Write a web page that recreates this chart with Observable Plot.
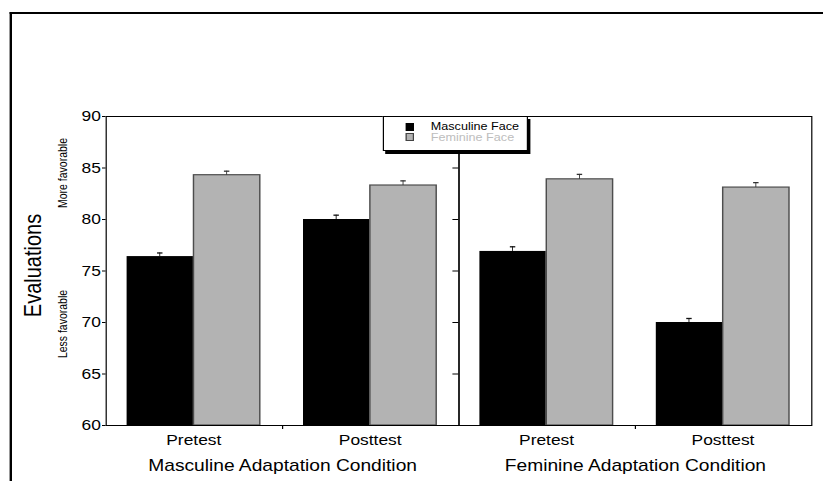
<!DOCTYPE html>
<html>
<head>
<meta charset="utf-8">
<script src="https://cdn.jsdelivr.net/npm/d3@7"></script>
<script src="https://cdn.jsdelivr.net/npm/@observablehq/plot@0.6"></script>
<style>
  html, body { margin: 0; padding: 0; background: #fff; overflow: hidden; }
  #page { position: relative; width: 823px; height: 481px; overflow: hidden; }
  /* the whole figure is drawn slightly widened */
  #stretch { position: absolute; left: 0; top: 0; width: 686px; height: 481px;
             transform: scaleX(1.2); transform-origin: 0 0; }
  #border { position: absolute; left: 7.5px; top: 12px; width: 800px; height: 500px;
            border-top: 2px solid #000; border-left: 2px solid #000; }
  #chart { position: absolute; left: 0; top: 0; }
  #legend { position: absolute; left: 319px; top: 116px; width: 119px; height: 33px;
            background: #fff; border: 1px solid #000; box-shadow: 2px 3px 0 #000;
            font: 10.5px "Liberation Sans", Arial, sans-serif; }
  #legend .sw { position: absolute; left: 18px; width: 6.5px; height: 8px; box-sizing: border-box; }
  #legend .lb { position: absolute; left: 39px; white-space: nowrap; line-height: 12px; }
</style>
</head>
<body>
<div id="page">
  <div id="stretch">
    <div id="border"></div>
    <div id="chart"></div>
    <div id="legend"></div>
  </div>
</div>
<script>
// Adaptation conditions (panels), test phases and face types
const conditions = ["Masculine Adaptation Condition", "Feminine Adaptation Condition"];
const tests = ["Pretest", "Posttest"];
const faces = ["Masculine Face", "Feminine Face"];

// Mean evaluations, ordered: masculine pre, masculine post, feminine pre, feminine post
const masculineFace = [76.4, 80.0, 76.9, 70.0];
const feminineFace = [84.3, 83.3, 83.9, 83.1];
// Standard errors in the same order
const masculineErr = [0.35, 0.42, 0.45, 0.39];
const feminineErr = [0.39, 0.45, 0.48, 0.48];

const yTicks = [60, 65, 70, 75, 80, 85, 90];
const yTitle = "Evaluations";
const yNotes = ["More favorable", "Less favorable"];

const faceColors = ["#000000", "#b3b3b3"];

// one row per bar
const rows = [];
conditions.forEach((condition, ci) => {
  tests.forEach((test, ti) => {
    const k = ci * tests.length + ti;
    rows.push({condition, test, face: faces[0], value: masculineFace[k], err: masculineErr[k]});
    rows.push({condition, test, face: faces[1], value: feminineFace[k], err: feminineErr[k]});
  });
});
const masc = rows.filter(d => d.face === faces[0]);
const fem = rows.filter(d => d.face === faces[1]);

// layout
const W = 686, H = 481;
const mL = 87.5, mR = 10.5, mT = 116, mB = 56;
const padInner = 0.244, padOuter = 0.119;
const facetW = (W - mL - mR) / conditions.length;
const step = facetW / (tests.length - padInner + 2 * padOuter);
const bw = step * (1 - padInner);
const q = bw / 4;        // centre of each half-band
const cap = 2.5;         // half width of error caps

const font = '"Liberation Sans", Arial, sans-serif';

const chart = Plot.plot({
  width: W,
  height: H,
  marginLeft: mL,
  marginRight: mR,
  marginTop: mT,
  marginBottom: mB,
  facet: {marginTop: 0, marginRight: 0, marginBottom: 0, marginLeft: 0},
  style: {fontFamily: font, fontSize: "14.5px", color: "#000", background: "transparent"},
  fx: {domain: conditions, paddingInner: 0, paddingOuter: 0},
  x: {domain: tests, paddingInner: padInner, paddingOuter: padOuter},
  y: {domain: [60, 90]},
  marks: [
    // bars
    Plot.barY(masc, {fx: "condition", x: "test", y1: 60, y2: "value", fill: faceColors[0], insetRight: bw / 2}),
    Plot.barY(fem, {fx: "condition", x: "test", y1: 60, y2: "value", fill: faceColors[1],
                    stroke: "#4d4d4d", strokeWidth: 1.2, insetLeft: bw / 2}),
    // error stems
    Plot.barY(masc, {fx: "condition", x: "test", y1: "value", y2: d => d.value + d.err, fill: "#111",
                     insetLeft: q - 0.6, insetRight: 3 * q - 0.6}),
    Plot.barY(fem, {fx: "condition", x: "test", y1: "value", y2: d => d.value + d.err, fill: "#333",
                    insetLeft: 3 * q - 0.6, insetRight: q - 0.6}),
    // error caps
    Plot.tickY(masc, {fx: "condition", x: "test", y: d => d.value + d.err, stroke: "#111", strokeWidth: 1.3,
                      insetLeft: q - cap, insetRight: 3 * q - cap}),
    Plot.tickY(fem, {fx: "condition", x: "test", y: d => d.value + d.err, stroke: "#333", strokeWidth: 1.3,
                     insetLeft: 3 * q - cap, insetRight: q - cap}),
    // panel frames
    Plot.frame({stroke: "#000", strokeWidth: 1}),
    // axes
    Plot.axisY({ticks: yTicks, tickSize: 3, tickPadding: 1.5, fontSize: 14.5, label: null}),
    Plot.axisY({ticks: yTicks, tickSize: 5, tickFormat: () => "", anchor: "left", facetAnchor: "right", label: null}),
    Plot.axisX({tickSize: 0, tickPadding: 9, fontSize: 14.5, label: null}),
    Plot.axisFx({anchor: "bottom", tickSize: 4, tickPadding: 30, fontSize: 16, label: null}),
    // y-axis titles
    Plot.text([yTitle], {fx: () => conditions[0], frameAnchor: "left", textAnchor: "middle", rotate: -90,
                         dx: -60.8, dy: -5.5, fontSize: 20}),
    Plot.text([yNotes[0]], {fx: () => conditions[0], frameAnchor: "left", textAnchor: "middle", rotate: -90,
                            dx: -35.8, dy: -98, fontSize: 10.5}),
    Plot.text([yNotes[1]], {fx: () => conditions[0], frameAnchor: "left", textAnchor: "middle", rotate: -90,
                            dx: -35.8, dy: 53, fontSize: 10.5})
  ]
});
document.getElementById("chart").appendChild(chart);

// legend
const legend = document.getElementById("legend");
const legendColors = ["#000", "#bdbdbd"];
faces.forEach((f, i) => {
  const sw = document.createElement("div");
  sw.className = "sw";
  sw.style.top = (6 + i * 10) + "px";
  sw.style.background = faceColors[i];
  sw.style.border = i ? "1px solid #444" : "none";
  legend.appendChild(sw);
  const lb = document.createElement("div");
  lb.className = "lb";
  lb.style.top = (3 + i * 11) + "px";
  lb.style.color = legendColors[i];
  lb.textContent = f;
  legend.appendChild(lb);
});
</script>
</body>
</html>
